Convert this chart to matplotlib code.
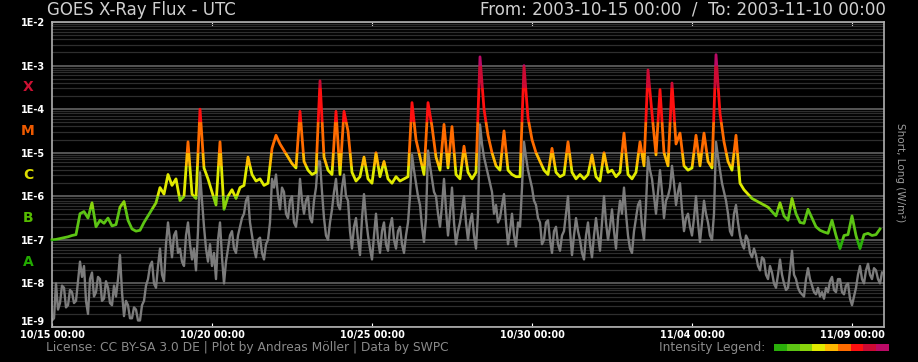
import numpy as np
import matplotlib
matplotlib.use("Agg")
import matplotlib.pyplot as plt
from matplotlib.patches import Rectangle

# log10 of the long channel flux (W/m2), one row per day, 3-hour steps
long_log = [
    -7.00, -6.99, -6.97, -6.95, -6.93, -6.90, -6.88, -6.40,
    -6.35, -6.50, -6.15, -6.70, -6.55, -6.62, -6.50, -6.68,
    -6.65, -6.25, -6.12, -6.55, -6.75, -6.80, -6.78, -6.60,
    -6.45, -6.30, -6.15, -5.80, -5.95, -5.50, -5.75, -5.60,
    -6.10, -6.00, -4.75, -5.95, -6.05, -4.00, -5.35, -5.60,
    -5.90, -6.20, -4.75, -6.30, -6.00, -5.85, -6.05, -5.80,
    -5.75, -5.10, -5.50, -5.65, -5.60, -5.75, -5.70, -4.90,
    -4.60, -4.80, -4.95, -5.10, -5.25, -5.35, -4.05, -5.20,
    -5.40, -5.50, -5.45, -3.35, -5.10, -5.40, -5.50, -4.05,
    -5.50, -4.05, -4.50, -5.45, -5.65, -5.55, -5.10, -5.60,
    -5.70, -5.00, -5.55, -5.20, -5.60, -5.70, -5.55, -5.65,
    -5.60, -5.55, -3.85, -4.70, -5.10, -5.50, -3.85, -4.40,
    -5.10, -5.40, -4.35, -5.35, -4.40, -5.50, -5.60, -4.85,
    -5.45, -5.60, -5.45, -2.80, -4.00, -4.60, -5.00, -5.30,
    -5.40, -4.50, -5.40, -5.50, -5.55, -5.55, -3.00, -4.20,
    -4.70, -5.00, -5.20, -5.40, -5.50, -4.90, -5.45, -5.55,
    -5.50, -4.75, -5.45, -5.60, -5.50, -5.60, -5.50, -5.05,
    -5.55, -5.65, -5.00, -5.45, -5.40, -5.55, -5.45, -4.55,
    -5.50, -5.60, -5.45, -4.75, -5.30, -3.10, -4.10, -5.05,
    -3.55, -5.00, -5.30, -3.40, -4.80, -4.55, -5.30, -5.40,
    -5.35, -4.60, -5.30, -4.55, -5.20, -5.35, -2.75, -4.10,
    -4.75, -5.20, -5.40, -4.60, -5.70, -5.85, -5.95, -6.05,
    -6.10, -6.15, -6.20, -6.25, -6.35, -6.45, -6.15, -6.45,
    -6.55, -6.05, -6.40, -6.60, -6.62, -6.30, -6.50, -6.70,
    -6.78, -6.82, -6.85, -6.55, -6.90, -7.20, -6.90, -6.88,
    -6.45, -6.90, -7.20, -6.88, -6.85, -6.90, -6.88, -6.75,
]

# log10 of the short channel flux (W/m2), one row per day, 1.5-hour steps
short_log = [
    -8.85, -8.80, -8.00, -8.60, -8.45, -8.05, -8.10, -8.55, -8.50, -8.15, -8.20, -8.45, -8.40, -7.95, -7.50, -7.85,
    -7.60, -8.40, -8.70, -7.90, -7.75, -8.30, -8.20, -7.85, -7.90, -8.40, -8.35, -7.95, -8.10, -8.45, -8.50, -8.05,
    -8.30, -7.90, -7.35, -8.20, -8.75, -8.40, -8.50, -8.80, -8.80, -8.55, -8.60, -8.85, -8.85, -8.50, -8.40, -8.05,
    -7.90, -7.60, -7.50, -8.00, -8.10, -7.60, -7.20, -7.80, -7.95, -7.10, -6.60, -7.00, -7.40, -6.90, -6.80, -7.30,
    -7.20, -7.50, -7.60, -6.90, -6.60, -7.10, -7.45, -7.20, -7.70, -6.80, -5.45, -6.10, -6.70, -7.20, -7.50, -7.10,
    -7.60, -7.30, -7.90, -7.00, -6.60, -7.40, -8.00, -7.50, -7.20, -6.90, -6.80, -7.20, -7.30, -6.90, -6.70, -6.50,
    -6.40, -6.10, -6.00, -6.60, -6.90, -7.20, -7.40, -7.00, -6.95, -7.30, -7.45, -7.10, -7.00, -6.60, -5.60, -5.80,
    -5.50, -6.00, -6.30, -5.80, -5.90, -6.40, -6.50, -6.10, -6.00, -6.60, -6.70, -6.30, -5.60, -6.10, -6.40, -6.10,
    -6.00, -6.50, -6.60, -6.10, -5.80, -5.20, -5.20, -5.90, -6.50, -6.90, -7.00, -6.60, -6.30, -5.90, -5.60, -6.20,
    -6.30, -5.80, -5.50, -6.00, -6.10, -6.80, -7.20, -6.70, -6.50, -7.00, -7.35, -6.50, -5.95, -6.50, -6.90, -7.20,
    -7.45, -6.90, -6.40, -7.00, -7.30, -6.80, -6.60, -7.10, -7.25, -6.70, -6.50, -7.00, -7.20, -6.80, -6.70, -7.10,
    -7.30, -6.90, -6.60, -6.00, -5.05, -5.40, -5.70, -6.00, -6.20, -6.70, -7.05, -6.50, -4.95, -5.30, -5.60, -5.90,
    -6.00, -6.40, -6.70, -6.20, -5.60, -6.30, -6.90, -6.40, -5.80, -6.60, -7.10, -6.80, -6.60, -6.30, -6.00, -6.60,
    -7.00, -6.60, -6.40, -6.90, -7.20, -6.40, -4.35, -4.80, -5.10, -5.30, -5.50, -5.70, -5.90, -6.40, -6.20, -6.60,
    -6.50, -6.20, -5.95, -6.60, -7.10, -6.80, -6.40, -6.90, -7.15, -6.60, -6.70, -5.80, -4.75, -5.10, -5.40, -5.60,
    -5.80, -6.10, -6.20, -6.50, -6.60, -7.10, -7.00, -6.60, -6.55, -7.00, -7.30, -6.80, -6.70, -7.10, -7.25, -6.90,
    -6.80, -6.40, -6.00, -6.80, -7.35, -6.90, -6.50, -6.80, -7.00, -7.30, -7.45, -6.90, -6.60, -7.10, -7.40, -6.90,
    -6.50, -6.90, -7.25, -6.60, -6.00, -6.60, -7.00, -6.70, -6.30, -6.80, -7.20, -6.50, -6.10, -6.40, -5.80, -6.40,
    -6.90, -7.20, -7.30, -6.80, -6.50, -6.20, -6.10, -6.70, -7.00, -6.20, -5.10, -5.40, -5.60, -6.00, -6.40, -5.90,
    -5.40, -5.90, -6.50, -6.10, -6.00, -5.80, -5.30, -5.70, -6.20, -5.90, -5.70, -6.30, -6.80, -6.50, -6.40, -6.70,
    -6.90, -6.50, -6.00, -6.60, -7.05, -6.60, -6.10, -6.40, -6.60, -6.90, -7.00, -6.40, -4.75, -5.10, -5.40, -5.70,
    -5.90, -6.10, -6.40, -6.80, -6.90, -6.40, -6.20, -6.60, -6.90, -7.10, -7.20, -6.90, -7.00, -7.30, -7.40, -7.20,
    -7.35, -7.60, -7.70, -7.40, -7.45, -7.80, -7.90, -7.60, -7.75, -8.00, -8.10, -7.80, -7.45, -7.80, -8.00, -8.15,
    -8.10, -7.70, -7.25, -7.80, -7.90, -8.10, -8.20, -8.25, -8.30, -7.90, -7.65, -7.90, -8.05, -8.20, -8.25, -8.10,
    -8.30, -8.20, -8.35, -8.10, -8.20, -7.95, -7.85, -8.15, -8.20, -7.90, -7.90, -8.20, -8.25, -8.05, -8.00, -8.35,
    -8.50, -8.30, -8.10, -7.80, -7.60, -7.90, -8.00, -7.70, -7.55, -7.80, -7.90, -7.65, -7.70, -7.90, -8.00, -7.75,
]

tick_days = [0, 5, 10, 15, 20, 25]
tick_labels = ["10/15 00:00", "10/20 00:00", "10/25 00:00",
               "10/30 00:00", "11/04 00:00", "11/09 00:00"]

# intensity bands for the long channel
band_edges = [1e-10, 1e-7, 5e-7, 1e-6, 5e-6, 1e-5, 5e-5, 3e-4, 1e-3, 1e-1]
band_colors = ["#2aae0a", "#5cc414", "#88d40c", "#e0ea00", "#ffb800",
               "#ff6c00", "#ff1010", "#cc0a33", "#bb0a66"]

classes = ["X", "M", "C", "B", "A"]
class_colors = ["#cc1133", "#ee5a00", "#dddd00", "#55bb00", "#22aa00"]

t_long = np.arange(len(long_log)) / 8.0
t_short = np.arange(len(short_log)) / 16.0
long_flux = 10.0 ** np.array(long_log)
short_flux = 10.0 ** np.array(short_log)

fig = plt.figure(figsize=(9.18, 3.62), dpi=100, facecolor="black")
ax = fig.add_axes([52 / 918, 35 / 362, 832 / 918, 305 / 362])
ax.set_facecolor("black")
ax.set_yscale("log")
ax.set_xlim(0, 26)
ax.set_ylim(1e-9, 1e-2)

# horizontal grid
ax.yaxis.grid(True, which="major", color="#555555", lw=1.4)
ax.yaxis.grid(True, which="minor", color="#2e2e2e", lw=0.9)
ax.set_axisbelow(True)

ax.plot(t_short, short_flux, color="#7c7c7c", lw=1.7, zorder=2)

for lo, hi, c in zip(band_edges[:-1], band_edges[1:], band_colors):
    ln, = ax.plot(t_long, long_flux, color=c, lw=2.0, zorder=3)
    clip = Rectangle((-1, lo), 28, hi - lo, transform=ax.transData)
    ln.set_clip_path(clip)

for s in ax.spines.values():
    s.set_color("#b0b0b0")
    s.set_linewidth(1.2)

ax.set_xticks(tick_days)
ax.set_xticklabels(tick_labels, color="white", fontsize=7, fontweight="bold")
ax.tick_params(axis="x", direction="in", length=3, color="white",
               top=True, pad=2)
ax.set_yticks([10.0 ** k for k in range(-9, -1)])
ax.set_yticklabels(["1E-%d" % k for k in range(9, 1, -1)], color="white",
                   fontsize=7, fontweight="bold")
ax.tick_params(axis="y", which="both", length=0, pad=5)
ax.yaxis.set_minor_formatter(plt.NullFormatter())
ax.get_yticklabels()[0].set_va("bottom")

for i, (cl, cc) in enumerate(zip(classes, class_colors)):
    ax.text(-0.75, 10.0 ** (-3.5 - i), cl, color=cc, fontsize=10,
            fontweight="bold", ha="center", va="center",
            transform=ax.transData, clip_on=False)

fig.text(47 / 918, 1 - 10 / 362, "GOES X-Ray Flux - UTC", color="#d0d0d0",
         fontsize=12, ha="left", va="center")
fig.text(886 / 918, 1 - 10 / 362,
         "From: 2003-10-15 00:00  /  To: 2003-11-10 00:00",
         color="#d0d0d0", fontsize=12, ha="right", va="center")
fig.text(46 / 918, 1 - 347 / 362,
         "License: CC BY-SA 3.0 DE | Plot by Andreas M\u00f6ller | Data by SWPC",
         color="#8a8a8a", fontsize=8.8, ha="left", va="center")
fig.text(765 / 918, 1 - 347 / 362, "Intensity Legend:", color="#8a8a8a",
         fontsize=8.8, ha="right", va="center")
fig.text(900 / 918, 1 - 173 / 362, "Short, Long (W/m\u00b2)", color="#9a9a9a",
         fontsize=7.5, rotation=-90, ha="center", va="center")

lax = fig.add_axes([774 / 918, 1 - 351 / 362, 115 / 918, 7 / 362])
lax.bar(np.arange(len(band_colors)), np.ones(len(band_colors)), width=1.0,
        color=band_colors)
lax.set_xlim(-0.5, len(band_colors) - 0.5)
lax.set_ylim(0, 1)
lax.axis("off")

fig.savefig("out.png", dpi=100, facecolor="black")
